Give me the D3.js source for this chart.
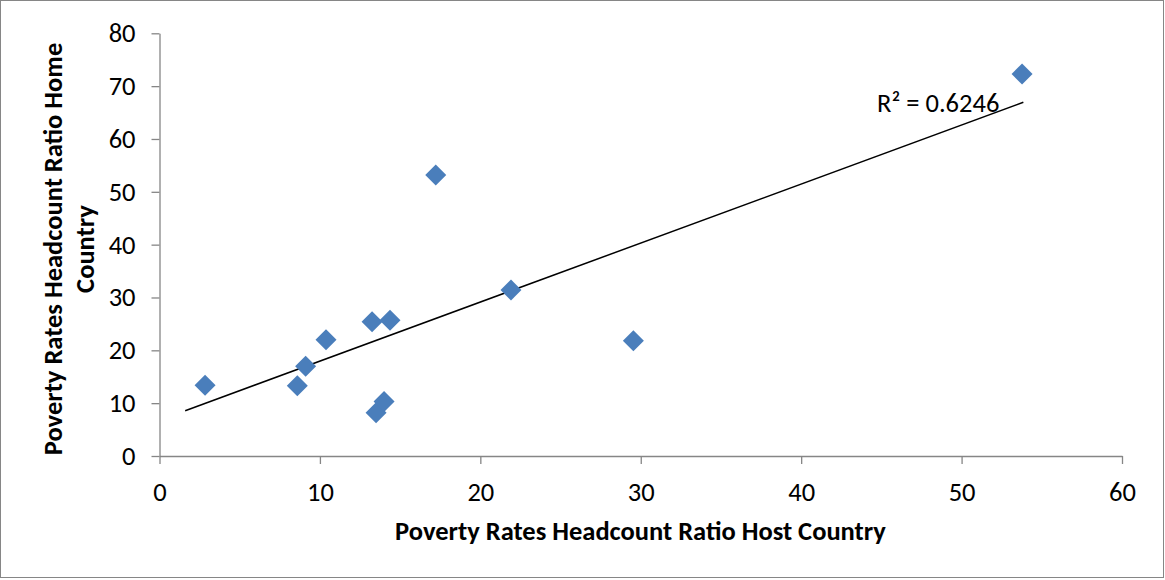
<!DOCTYPE html>
<html><head><meta charset="utf-8">
<script src="https://cdn.jsdelivr.net/npm/d3@7"></script>
<style>body{margin:0;background:#fff;} svg{display:block;}</style>
</head><body>
<svg id="c" width="1165" height="580"></svg>
<script>
const hostRate = [2.84, 8.59, 9.11, 10.38, 13.25, 14.37, 13.5, 14.0, 17.22, 21.91, 29.54, 53.77];
const homeRate = [13.4, 13.3, 17.0, 22.0, 25.4, 25.7, 8.2, 10.3, 53.2, 31.4, 21.8, 72.3];
const xTicks = [0, 10, 20, 30, 40, 50, 60];
const yTicks = [0, 10, 20, 30, 40, 50, 60, 70, 80];
const trendRange = [1.6, 53.85];
const trendSlope = 1.117;
const trendIntercept = 6.79;
const r2Label = "R² = 0.6246";
const xTitle = "Poverty Rates Headcount Ratio Host Country";
const yTitle = ["Poverty Rates Headcount Ratio Home", "Country"];

const font = "Carlito, Calibri, 'Liberation Sans Narrow', 'Open Sans', sans-serif";
const fs = 26.5;
const svg = d3.select("#c");
svg.append("rect").attr("x",0.5).attr("y",0.5).attr("width",1163).attr("height",577)
  .attr("fill","#fff").attr("stroke","#868686");

const x = d3.scaleLinear().domain([0,60]).range([159.5,1122]);
const y = d3.scaleLinear().domain([0,80]).range([456,33.3]);

const axisColor = "#868686";
const gx = svg.append("g").attr("transform",`translate(0,${y(0)})`)
  .call(d3.axisBottom(x).tickValues(xTicks).tickSize(8).tickSizeOuter(0).tickPadding(18));
const gy = svg.append("g").attr("transform",`translate(${x(0)},0)`)
  .call(d3.axisLeft(y).tickValues(yTicks).tickSize(8).tickSizeOuter(0).tickPadding(16));
[gx,gy].forEach(g=>{
  g.select(".domain").attr("stroke",axisColor).attr("stroke-width",1.3);
  g.selectAll(".tick line").attr("stroke",axisColor).attr("stroke-width",1.3);
  g.selectAll(".tick text").attr("fill","#000").style("font-family",font).style("font-size",fs+"px");
});
gx.selectAll(".tick text").attr("dy","0.71em");

svg.append("line")
  .attr("x1",x(trendRange[0])).attr("y1",y(trendIntercept+trendSlope*trendRange[0]))
  .attr("x2",x(trendRange[1])).attr("y2",y(trendIntercept+trendSlope*trendRange[1]))
  .attr("stroke","#000").attr("stroke-width",1.5);

const data = hostRate.map((v,i)=>({x:v,y:homeRate[i]}));
const sym = d3.symbol().type(d3.symbolSquare).size(220);
svg.append("g").selectAll("path").data(data).join("path")
  .attr("d",sym)
  .attr("transform",d=>`translate(${x(d.x)},${y(d.y)}) rotate(45)`)
  .attr("fill","#4a7ebb");

svg.append("text").attr("x",877).attr("y",111.5).text(r2Label)
  .style("font-family",font).style("font-size",fs+"px").attr("fill","#000");

svg.append("text").attr("x",640.5).attr("y",540).attr("text-anchor","middle").text(xTitle)
  .style("font-family",font).style("font-size",fs+"px").style("font-weight","bold");

const yt = svg.append("text").attr("transform","translate(0,249) rotate(-90)")
  .attr("text-anchor","middle").style("font-family",font).style("font-size",fs+"px").style("font-weight","bold");
yt.append("tspan").attr("x",0).attr("y",62).text(yTitle[0]);
yt.append("tspan").attr("x",0).attr("y",94).text(yTitle[1]);
</script>
</body></html>
